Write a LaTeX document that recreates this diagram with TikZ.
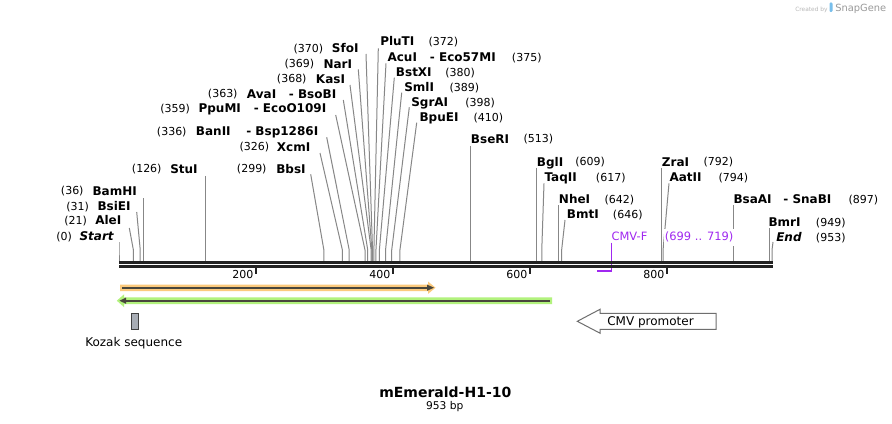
\documentclass[tikz,border=0pt]{standalone}
\usepackage{fontspec}
\setmainfont{DejaVu Sans}
\definecolor{cutline}{RGB}{135,135,135}
\definecolor{bbone}{RGB}{34,34,34}
\definecolor{primer}{RGB}{160,40,240}
\definecolor{orangeband}{RGB}{252,202,125}
\definecolor{greenband}{RGB}{178,242,125}
\definecolor{arrowdark}{RGB}{72,70,60}
\definecolor{kozakfill}{RGB}{168,173,181}
\definecolor{promoline}{RGB}{110,110,110}
\definecolor{logoblue}{RGB}{120,190,235}
\tikzset{
  enz/.style={font=\fontsize{9}{10}\selectfont\bfseries, anchor=base west, inner sep=0pt, yshift=-3.3pt},
  enzr/.style={enz, anchor=base east},
  enzi/.style={font=\fontsize{9}{10}\selectfont\bfseries\itshape, anchor=base west, inner sep=0pt, yshift=-3.3pt},
  num/.style={font=\fontsize{8.25}{10}\selectfont, anchor=base west, inner sep=0pt, yshift=-3pt},
  ticklab/.style={font=\fontsize{8.25}{10}\selectfont, anchor=base east, inner sep=0pt, yshift=-3pt},
  featlab/.style={font=\fontsize{8.6}{10}\selectfont, text=primer, anchor=base west, inner sep=0pt, yshift=-3.1pt},
  featname/.style={font=\fontsize{9}{10}\selectfont, anchor=base west, inner sep=0pt, yshift=-3.3pt},
  cutl/.style={draw=cutline, line width=0.75pt},
}
\begin{document}
\begin{tikzpicture}[x=0.75pt,y=-0.75pt]
\useasboundingbox (0,0) rectangle (892,424);
\fill[white] (0,0) rectangle (892,424);

% watermark
\node[font=\fontsize{4.4}{5}\selectfont, text=black!28, anchor=mid west, inner sep=0pt] (wm1) at (795,7.5) {Created by};
\fill[logoblue, rounded corners=0.8pt] (829.5,2.5) rectangle (832.5,12);
\node[font=\fontsize{7.4}{8}\selectfont, text=black!40, anchor=mid west, inner sep=0pt] (wm2) at (835,7.5) {SnapGene};

% primer CMV-F mark
\draw[primer, line width=0.75pt] (611.5,242.7) -- (611.5,271.5);
\draw[primer, line width=1.6pt] (597,270.8) -- (611.9,270.8);

% cut lines: top x / top y / site x
\foreach \xt/\yt/\xp [count=\i] in {
  119/242/119, 129.3/228/133.39, 136.7/212/140.24, 143.67/198/143.67,
  205.34/176/205.34, 310.7/174.3/323.88, 320/153/342.38, 326.7/137.3/349.23,
  335.7/115/365.0, 343.3/100/367.73, 350/85/371.16, 358.3/69.3/371.84,
  366/54/372.53, 378.3/48.3/373.9, 386/63.3/375.95, 394.3/77.7/379.38,
  401.7/92.7/385.55, 409.3/107.3/391.71, 416.7/122.7/399.93,
  470.51/146/470.51, 536.29/168/536.29, 544/183.3/541.77, 558.9/205/558.9,
  565/220/561.64, 661.68/168/661.68, 669/183.3/663.05, 733.63/205/733.63,
  769/228/769, 773/242/772}{
  \coordinate (ct\i) at (\xt,\yt);
  \coordinate (cb\i) at (\xp,261);
  \draw[cutl] (ct\i) -- (\xp,250) -- (cb\i);
}

% backbone
\fill[bbone] (119,260.8) rectangle (772.5,263.6);
\fill[bbone] (119,265.1) rectangle (772.5,267.9);

% ticks
\foreach \tx/\tl in {256.04/200, 393.08/400, 530.12/600, 667.16/800}{
  \fill[bbone] (\tx-1,267.5) rectangle (\tx+1,274);
  \node[ticklab] (tk\tl) at (\tx-2.5,274) {\tl};
}

% left labels
\node[num] (n0) at (56,236) {(0)};
\node[enzi] (e0) at (79.3,236) {Start};
\node[num] (n21) at (64,220.5) {(21)};
\node[enz] (e21) at (95,220.5) {AleI};
\node[num] (n31) at (66,206) {(31)};
\node[enz] (e31) at (97.3,206) {BsiEI};
\node[num] (n36) at (60.7,191) {(36)};
\node[enz] (e36) at (92.3,191) {BamHI};
\node[num] (n126) at (131.7,169) {(126)};
\node[enz] (e126) at (170,169) {StuI};
\node[num] (n299) at (236.7,169) {(299)};
\node[enz] (e299) at (276,169) {BbsI};
\node[num] (n326) at (239.3,147) {(326)};
\node[enz] (e326) at (276.7,147) {XcmI};
\node[num] (n336) at (156.7,131.3) {(336)};
\node[enz] (e336) at (195.7,131.3) {BanII};
\node[enzr] (e336b) at (318.5,131.3) {-\ Bsp1286I};
\node[num] (n359) at (160,108.5) {(359)};
\node[enz] (e359) at (198.3,108.5) {PpuMI};
\node[enzr] (e359b) at (326.5,108.5) {-\ EcoO109I};
\node[num] (n363) at (207.7,93.7) {(363)};
\node[enz] (e363) at (246.7,93.7) {AvaI};
\node[enzr] (e363b) at (336.5,93.7) {-\ BsoBI};
\node[num] (n368) at (276.7,78.7) {(368)};
\node[enz] (e368) at (315.7,78.7) {KasI};
\node[num] (n369) at (284.3,63.8) {(369)};
\node[enz] (e369) at (323.3,63.8) {NarI};
\node[num] (n370) at (293.3,48.3) {(370)};
\node[enz] (e370) at (331.7,48.3) {SfoI};

% right labels
\node[enz] (e372) at (380,41.3) {PluTI};
\node[num] (n372) at (428.3,41.3) {(372)};
\node[enz] (e375) at (387.3,57.2) {AcuI};
\node[enzr] (e375b) at (496,57.2) {-\ Eco57MI};
\node[num] (n375) at (511.7,57.2) {(375)};
\node[enz] (e380) at (395.7,72.2) {BstXI};
\node[num] (n380) at (445,72.2) {(380)};
\node[enz] (e389) at (404,87.2) {SmlI};
\node[num] (n389) at (449.3,87.2) {(389)};
\node[enz] (e398) at (411,102.2) {SgrAI};
\node[num] (n398) at (465,102.2) {(398)};
\node[enz] (e410) at (419.3,117.2) {BpuEI};
\node[num] (n410) at (473.3,117.2) {(410)};
\node[enz] (e513) at (470.7,139) {BseRI};
\node[num] (n513) at (523.3,139) {(513)};
\node[enz] (e609) at (536.7,162) {BglI};
\node[num] (n609) at (575,162) {(609)};
\node[enz] (e617) at (544.3,177) {TaqII};
\node[num] (n617) at (595.7,177) {(617)};
\node[enz] (e642) at (558.7,199.5) {NheI};
\node[num] (n642) at (604.3,199.5) {(642)};
\node[enz] (e646) at (566.7,214.5) {BmtI};
\node[num] (n646) at (612.7,214.5) {(646)};
\node[enz] (e792) at (661.7,162) {ZraI};
\node[num] (n792) at (703.3,162) {(792)};
\node[enz] (e794) at (669.3,177) {AatII};
\node[num] (n794) at (718.3,177) {(794)};
\node[enz] (e897) at (733.3,199.5) {BsaAI};
\node[enzr] (e897b) at (831.7,199.5) {-\ SnaBI};
\node[num] (n897) at (848.3,199.5) {(897)};
\node[enz] (e949) at (768.3,222) {BmrI};
\node[num] (n949) at (815.7,222) {(949)};
\node[enzi] (e953) at (776,237) {End};
\node[num] (n953) at (815.7,237) {(953)};

% primer label
\node[featlab] (cmvf) at (611.3,236.7) {CMV-F};
\node[featlab, fill=white, inner xsep=1pt, inner ysep=2.5pt] (cmvfpos) at (663.3,236.7) {(699 .. 719)};

% orange feature arrow (right)
\fill[orangeband] (120,284.5) -- (428,284.5) -- (428,281.5) -- (435.5,287.7) -- (428,293.9) -- (428,291) -- (120,291) -- cycle;
\draw[arrowdark, line width=1.5pt] (122,287.7) -- (428,287.7);
\fill[arrowdark] (427,284.6) -- (434,287.7) -- (427,290.8) -- cycle;

% green feature arrow (left)
\fill[greenband] (552,297.4) -- (124,297.4) -- (124,294.4) -- (116.8,300.7) -- (124,307) -- (124,304) -- (552,304) -- cycle;
\draw[arrowdark, line width=1.5pt] (550,300.7) -- (125,300.7);
\fill[arrowdark] (126,297.6) -- (119.5,300.7) -- (126,303.8) -- cycle;

% Kozak sequence
\draw[draw=black!75, fill=kozakfill, line width=0.75pt] (131.5,313.2) rectangle (138.5,329.2);
\node[featname] (kozak) at (85,342) {Kozak sequence};

% CMV promoter arrow
\draw[promoline, fill=white, line width=0.75pt] (716,313.3) -- (600,313.3) -- (600,309.3) -- (577.3,321.3) -- (600,333.2) -- (600,329.3) -- (716,329.3) -- cycle;
\node[featname] (cmvp) at (607,321) {CMV promoter};

% title
\node[font=\fontsize{10.5}{12}\selectfont\bfseries, anchor=base, inner sep=0pt, yshift=-3.8pt] (title) at (445.3,392.5) {mEmerald-H1-10};
\node[font=\fontsize{8}{10}\selectfont, anchor=base, inner sep=0pt, yshift=-2.9pt] (size) at (444.7,405.8) {953 bp};
\end{tikzpicture}
\end{document}
